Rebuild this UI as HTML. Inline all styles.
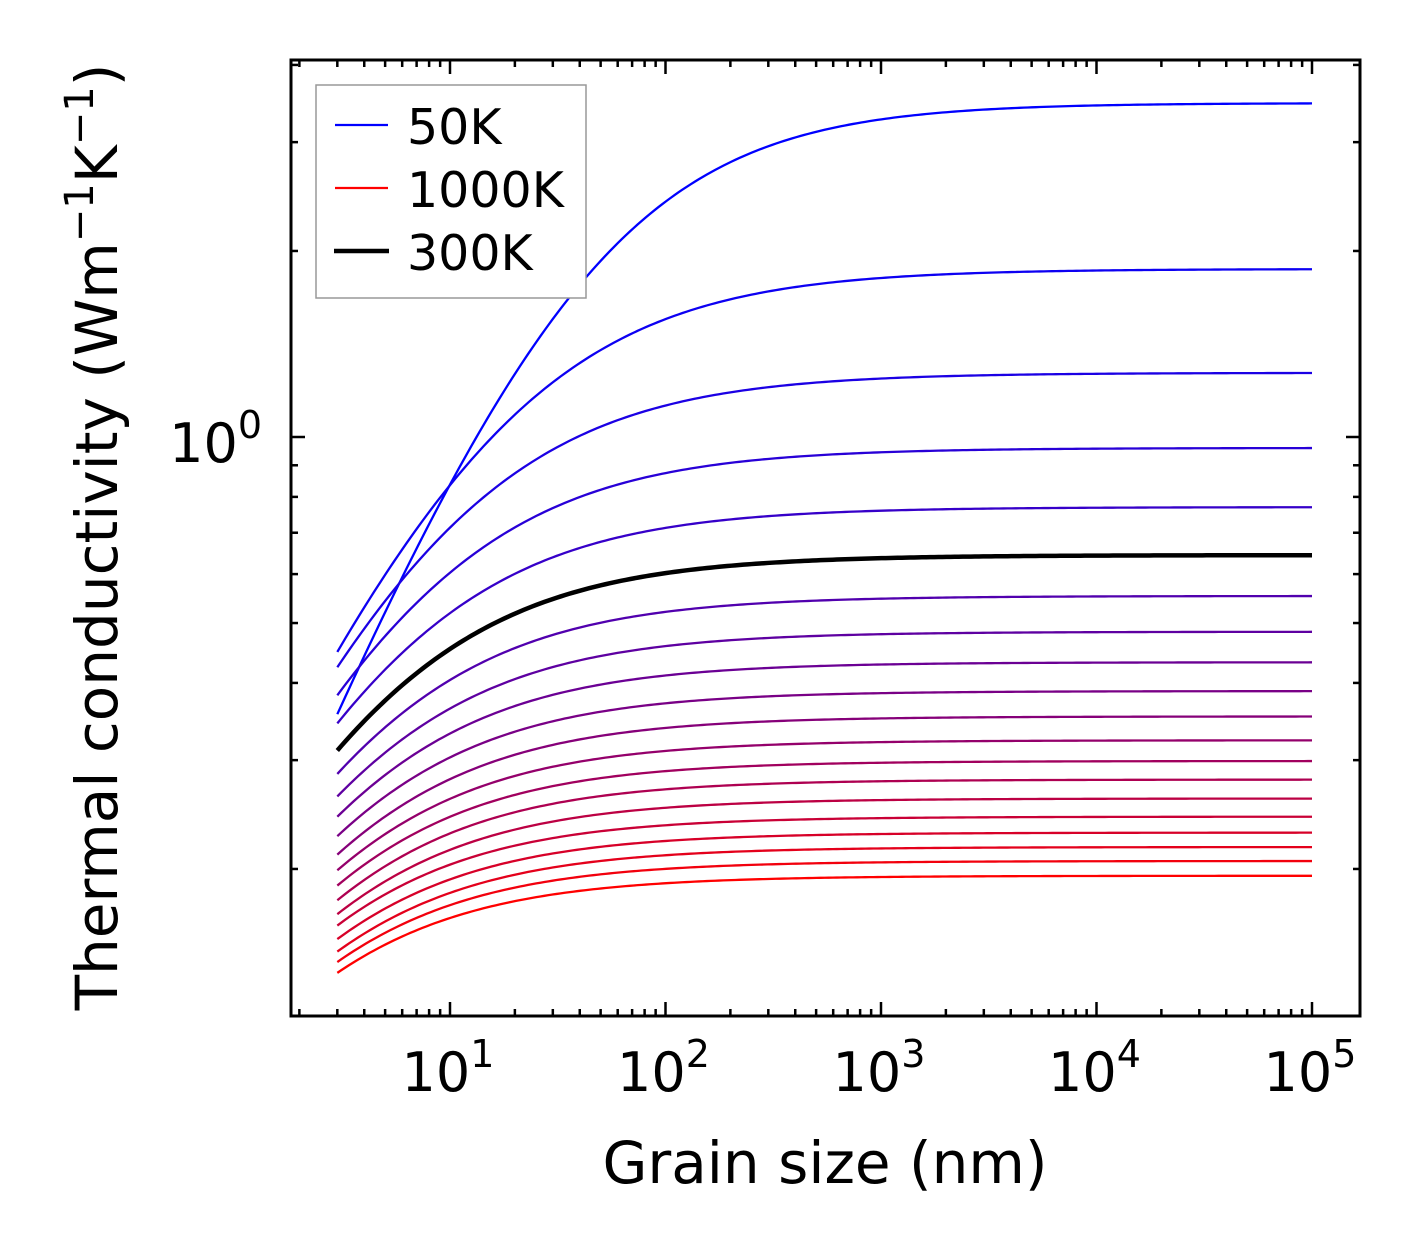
<!DOCTYPE html>
<html><head><meta charset="utf-8"><style>
html,body{margin:0;padding:0;background:#fff;}
svg{display:block;font-family:"DejaVu Sans","Liberation Sans",sans-serif;}
</style></head><body>
<svg id="chart" width="1421" height="1254" viewBox="0 0 1421 1254" xmlns="http://www.w3.org/2000/svg">
<rect width="1421" height="1254" fill="#fff"/>
<g id="curves"></g>
<g id="axes"></g>
<rect x="291" y="60" width="1069" height="956" fill="none" stroke="#000" stroke-width="3"/>
<text x="825" y="1183" font-size="58" text-anchor="middle">Grain size (nm)</text>
<text transform="translate(117,537) rotate(-90)" font-size="58" text-anchor="middle">Thermal conductivity (Wm<tspan font-size="40" dy="-24">−1</tspan><tspan dy="24">K</tspan><tspan font-size="40" dy="-24">−1</tspan><tspan dy="24">)</tspan></text>
<g>
<rect x="316" y="85" width="270" height="213" fill="#fff" stroke="#999" stroke-width="1.5"/>
<line x1="335" y1="125" x2="388" y2="125" stroke="#0000ff" stroke-width="2.2"/>
<text x="407" y="144" font-size="49">50K</text>
<line x1="335" y1="188" x2="388" y2="188" stroke="#ff0000" stroke-width="2.2"/>
<text x="407" y="207" font-size="49">1000K</text>
<line x1="334" y1="251" x2="389" y2="251" stroke="#000" stroke-width="4.5"/>
<text x="407" y="270" font-size="49">300K</text>
</g>
</svg>
<script>
const temperatures = [50,100,150,200,250,300,350,400,450,500,550,600,650,700,750,800,850,900,950,1000];
const kBulk = [3.47,1.87,1.27,0.96,0.77,0.644,0.553,0.484,0.432,0.388,0.353,0.323,0.299,0.279,0.260,0.243,0.229,0.217,0.206,0.195];
const kAt3nm = [0.356,0.449,0.424,0.382,0.344,0.311,0.285,0.262,0.243,0.226,0.211,0.199,0.188,0.178,0.169,0.162,0.154,0.147,0.1414,0.1358];
const blackTemp = 300;
const xTicks = [1,2,3,4,5];
const yMajor = [0];

const NS="http://www.w3.org/2000/svg";
const X0=450, XD=215.5, Y0=437, YD=618;
function xs(v){return X0+(Math.log10(v)-1)*XD;}
function ys(v){return Y0-Math.log10(v)*YD;}
const curves=document.getElementById('curves');
const axes=document.getElementById('axes');
function model(i,L){
  const a=i===0?0.85:0.78;
  const L0=3*Math.pow(kBulk[i]/kAt3nm[i]-1,1/a);
  return kBulk[i]/(1+Math.pow(L0/L,a));
}
function pathFor(i){
  let d='';
  const n=240, lo=Math.log10(3), hi=5;
  for(let j=0;j<=n;j++){
    const L=Math.pow(10,lo+(hi-lo)*j/n);
    d+=(j?'L':'M')+xs(L).toFixed(2)+','+ys(model(i,L)).toFixed(2);
  }
  return d;
}
const N=temperatures.length;
for(let i=0;i<N;i++){
  const t=i/(N-1);
  const p=document.createElementNS(NS,'path');
  
  
  p.setAttribute('d',pathFor(i));
  p.setAttribute('fill','none');
  p.setAttribute('stroke','rgb('+Math.round(255*t)+',0,'+Math.round(255*(1-t))+')');
  p.setAttribute('stroke-width','2.3');
  curves.appendChild(p);
}
const bi=temperatures.indexOf(blackTemp);
const bp=document.createElementNS(NS,'path');


bp.setAttribute('d',pathFor(bi));
bp.setAttribute('fill','none');
bp.setAttribute('stroke','#000');
bp.setAttribute('stroke-width','4.5');
curves.appendChild(bp);

function line(x1,y1,x2,y2,name){
  const l=document.createElementNS(NS,'line');
  
  
  l.setAttribute('x1',x1);l.setAttribute('y1',y1);l.setAttribute('x2',x2);l.setAttribute('y2',y2);
  l.setAttribute('stroke','#000');l.setAttribute('stroke-width','2.5');
  axes.appendChild(l);
}
const L=291,R=1360,T=60,B=1016;
for(let e=0;e<=5;e++){
  for(let m=1;m<10;m++){
    const v=m*Math.pow(10,e);
    const x=xs(v);
    if(x<L||x>R)continue;
    const len=m===1?14:7;
    line(x,B,x,B-len,'x-tick');
    line(x,T,x,T+len,'x-tick-top');
  }
}
xTicks.forEach(e=>{
  const t=document.createElementNS(NS,'text');
  
  
  t.setAttribute('x',xs(Math.pow(10,e))-2);
  t.setAttribute('y',1091);
  t.setAttribute('font-size','54');
  t.setAttribute('text-anchor','middle');
  t.innerHTML='10<tspan font-size="38" dy="-24">'+e+'</tspan>';
  axes.appendChild(t);
});
for(let e=-1;e<=0;e++){
  for(let m=1;m<10;m++){
    const v=m*Math.pow(10,e);
    const y=ys(v);
    if(y<T||y>B)continue;
    const len=m===1?14:7;
    line(L,y,L+len,y,'y-tick');
    line(R,y,R-len,y,'y-tick-right');
  }
}
yMajor.forEach(e=>{
  const t=document.createElementNS(NS,'text');
  
  
  t.setAttribute('x',262);
  t.setAttribute('y',ys(Math.pow(10,e))+25);
  t.setAttribute('font-size','54');
  t.setAttribute('text-anchor','end');
  t.innerHTML='10<tspan font-size="38" dy="-24">'+e+'</tspan>';
  axes.appendChild(t);
});
</script>
</body></html>
